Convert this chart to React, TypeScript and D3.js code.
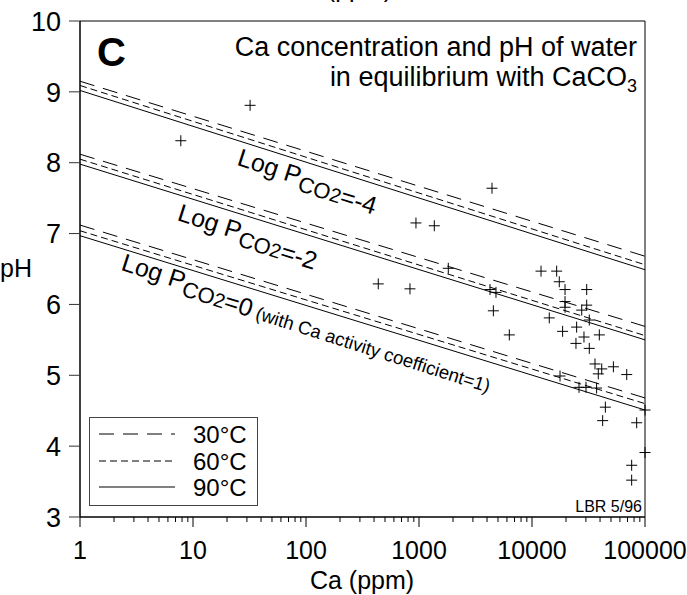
import React from "react";
import * as d3 from "d3";

// ---- data ----
const xTickValues = [1, 10, 100, 1000, 10000, 100000];
const xTickLabels = ["1", "10", "100", "1000", "10000", "100000"];
const yTickValues = [3, 4, 5, 6, 7, 8, 9, 10];

// log PCO2 for each line group
const pco2Labels = ["-4", "-2", "0"];
// pH at Ca = 1 ppm and Ca = 100000 ppm for each temperature
const ph30Start = [9.15, 8.12, 7.12];
const ph30End = [6.68, 5.69, 4.68];
const ph60Start = [9.09, 8.05, 7.04];
const ph60End = [6.56, 5.56, 4.6];
const ph90Start = [9.02, 7.98, 6.97];
const ph90End = [6.49, 5.5, 4.51];

const temps = ["30°C", "60°C", "90°C"];

// measured samples: Ca (ppm), pH
const sampleCa = [
  7.8, 32, 940, 1366, 1817, 436, 832, 4426, 12020, 16530, 17430, 19600, 30480,
  4250, 4800, 4550, 19600, 19600, 30480, 27540, 32140, 14220, 18660, 24830,
  28840, 39420, 24490, 32140, 6300, 36100, 41400, 52500, 68900, 38600, 17700,
  26060, 30060, 37300, 44600, 42200, 84400, 100000, 100000, 76200, 76200,
];
const samplePH = [
  8.31, 8.81, 7.15, 7.11, 6.51, 6.29, 6.22, 7.64, 6.47, 6.47, 6.32, 6.21, 6.21,
  6.21, 6.17, 5.91, 6.04, 5.96, 5.99, 5.92, 5.78, 5.81, 5.62, 5.68, 5.54, 5.57,
  5.45, 5.38, 5.57, 5.16, 5.09, 5.12, 5.01, 5.02, 4.99, 4.83, 4.83, 4.82, 4.55,
  4.36, 4.33, 4.51, 3.91, 3.73, 3.52,
];

const FONT = "'Liberation Sans', Arial, Helvetica, sans-serif";

export default function App() {
  const W = 687;
  const H = 595;
  const x = d3.scaleLog().domain([1, 100000]).range([80, 645]);
  const y = d3.scaleLinear().domain([3, 10]).range([517, 21]);

  const minorTicks: number[] = [];
  for (let dec = 1; dec < 100000; dec *= 10) {
    for (let k = 2; k <= 9; k++) minorTicks.push(dec * k);
  }

  const line = d3
    .line<[number, number]>()
    .x((d) => x(d[0]))
    .y((d) => y(d[1]));

  const styles = [
    { dash: "15,9", start: ph30Start, end: ph30End },
    { dash: "7,4", start: ph60Start, end: ph60End },
    { dash: "none", start: ph90Start, end: ph90End },
  ];

  const angle =
    (Math.atan2(y(ph60End[0]) - y(ph60Start[0]), x(100000) - x(1)) * 180) /
    Math.PI;

  // label anchor positions (Ca, pH) along each group
  const labelCa = [24, 7.1, 2.26];
  const labelPH = [7.97, 7.19, 6.49];

  const plus = (cx: number, cy: number, i: number) => (
    <g key={i}>
      <line x1={cx - 5.5} x2={cx + 5.5} y1={cy} y2={cy} stroke="#000" strokeWidth={1} />
      <line x1={cx} x2={cx} y1={cy - 5.5} y2={cy + 5.5} stroke="#000" strokeWidth={1} />
    </g>
  );

  return (
    <svg
      width={W}
      height={H}
      style={{ position: "absolute", left: 0, top: 0, background: "#fff" }}
      fontFamily={FONT}
    >
      <rect x={0} y={0} width={W} height={H} fill="#fff" />
      {/* cut-off label from panel above */}
      <text x={340} y={-3} fontSize={25} textAnchor="middle">
        Ca (ppm)
      </text>

      <defs>
        <clipPath id="plotclip">
          <rect x={80} y={21} width={565} height={496} />
        </clipPath>
      </defs>

      {/* equilibrium lines */}
      <g clipPath="url(#plotclip)">
        {pco2Labels.map((_, gi) =>
          styles.map((s, si) => (
            <path
              key={`${gi}-${si}`}
              d={
                line([
                  [1, s.start[gi]],
                  [100000, s.end[gi]],
                ]) as string
              }
              fill="none"
              stroke="#000"
              strokeWidth={1}
              strokeDasharray={s.dash}
            />
          ))
        )}
      </g>

      {/* line labels */}
      {pco2Labels.map((lab, gi) => (
        <text
          key={lab}
          transform={`translate(${x(labelCa[gi])},${y(labelPH[gi])}) rotate(${angle})`}
          fontSize={25}
        >
          <tspan>Log P</tspan>
          <tspan fontSize={22} dy={6}>
            CO
          </tspan>
          <tspan fontSize={20}>2</tspan>
          <tspan fontSize={25}>={lab}</tspan>
          {gi === 2 ? (
            <tspan fontSize={18.5} dx={5}>
              (with Ca activity coefficient=1)
            </tspan>
          ) : null}
        </text>
      ))}

      {/* samples */}
      {sampleCa.map((c, i) => plus(x(c), y(samplePH[i]), i))}

      {/* frame */}
      <line x1={80} x2={645} y1={21} y2={21} stroke="#000" strokeWidth={1} />
      <line x1={645} x2={645} y1={21} y2={517} stroke="#000" strokeWidth={1} />
      <line x1={80} x2={80} y1={21} y2={517} stroke="#000" strokeWidth={1.5} />
      <line x1={80} x2={645} y1={517} y2={517} stroke="#000" strokeWidth={1.5} />

      {/* y axis ticks */}
      {yTickValues.map((v) => (
        <g key={v}>
          <line x1={69} x2={80} y1={y(v)} y2={y(v)} stroke="#333" strokeWidth={1} />
          <text
            x={61}
            y={y(v)}
            dy="0.36em"
            fontSize={27}
            textAnchor="end"
          >
            {v}
          </text>
        </g>
      ))}

      {/* x axis ticks */}
      {minorTicks.map((v) => (
        <line key={v} x1={x(v)} x2={x(v)} y1={517} y2={522} stroke="#000" strokeWidth={1} />
      ))}
      {xTickValues.map((v, i) => (
        <g key={v}>
          <line x1={x(v)} x2={x(v)} y1={517} y2={527} stroke="#000" strokeWidth={1} />
          <text x={x(v)} y={559} fontSize={25} textAnchor="middle">
            {xTickLabels[i]}
          </text>
        </g>
      ))}

      {/* axis titles */}
      <text x={362} y={589} fontSize={25} textAnchor="middle">
        Ca (ppm)
      </text>
      <text x={0} y={277} fontSize={25}>
        pH
      </text>

      {/* panel letter and title */}
      <text x={97} y={66} fontSize={40} fontWeight="bold">
        C
      </text>
      <text x={637} y={56} fontSize={27} textAnchor="end">
        Ca concentration and pH of water
      </text>
      <text x={637} y={86} fontSize={27} textAnchor="end">
        in equilibrium with CaCO
        <tspan fontSize={18} dy={6}>
          3
        </tspan>
      </text>

      <text x={642} y={512} fontSize={16} textAnchor="end">
        LBR 5/96
      </text>

      {/* legend */}
      <rect x={89.5} y={417.5} width={168} height={88} fill="#fff" stroke="#444" strokeWidth={1} />
      {temps.map((t, i) => {
        const ly = [434, 461, 487][i];
        return (
          <g key={t}>
            <line
              x1={99}
              x2={175}
              y1={ly}
              y2={ly}
              stroke="#000"
              strokeWidth={1}
              strokeDasharray={styles[i].dash}
            />
            <text x={193} y={ly} dy="0.36em" fontSize={24}>
              {t}
            </text>
          </g>
        );
      })}
    </svg>
  );
}
